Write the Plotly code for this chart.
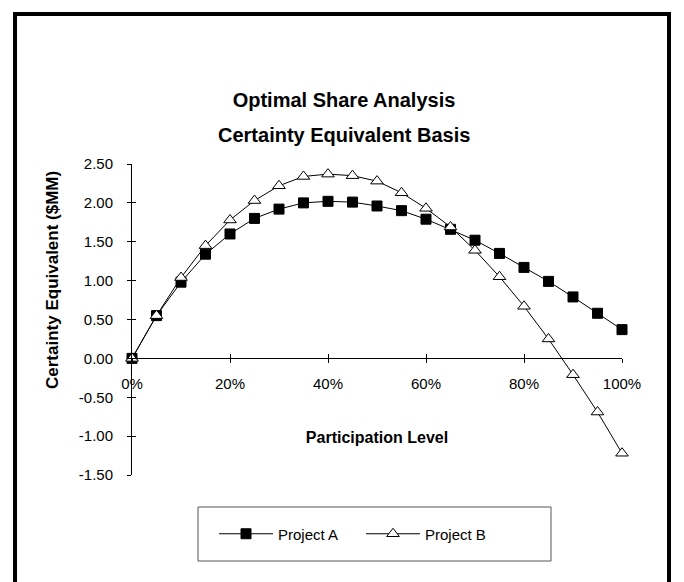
import plotly.graph_objects as go

# ---- data ----
participation = [0.00, 0.05, 0.10, 0.15, 0.20, 0.25, 0.30, 0.35, 0.40, 0.45, 0.50,
                 0.55, 0.60, 0.65, 0.70, 0.75, 0.80, 0.85, 0.90, 0.95, 1.00]
project_a = [0.00, 0.55, 0.98, 1.34, 1.60, 1.80, 1.92, 2.00, 2.02, 2.01, 1.96,
             1.90, 1.79, 1.66, 1.52, 1.35, 1.17, 0.99, 0.79, 0.58, 0.37]
project_b = [0.00, 0.55, 1.04, 1.45, 1.78, 2.03, 2.22, 2.34, 2.37, 2.35, 2.28,
             2.13, 1.93, 1.69, 1.39, 1.05, 0.67, 0.25, -0.21, -0.69, -1.22]
series_names = ["Project A", "Project B"]
x_tick_vals = [0.0, 0.2, 0.4, 0.6, 0.8, 1.0]
x_tick_labels = ["0%", "20%", "40%", "60%", "80%", "100%"]
y_tick_vals = [-1.5, -1.0, -0.5, 0.0, 0.5, 1.0, 1.5, 2.0, 2.5]
y_tick_labels = ["-1.50", "-1.00", "-0.50", "0.00", "0.50", "1.00", "1.50", "2.00", "2.50"]
title_lines = ["Optimal Share Analysis", "Certainty Equivalent Basis"]
x_title = "Participation Level"
y_title = "Certainty Equivalent ($MM)"

# ---- layout geometry (screen pixels; page body adds an 8px offset) ----
W, H = 684, 582
OFF = 8
L, R, T, B = 132, 622, 164, 475   # plot area on screen
FONT = "Arial, Liberation Sans, sans-serif"


def px_x(sx):
    return (sx - L) / (R - L)


def px_y(sy):
    return (B - sy) / (B - T)


y_min, y_max = y_tick_vals[0], y_tick_vals[-1]
zero_pos = (0 - y_min) / (y_max - y_min)

fig = go.Figure()
fig.add_trace(go.Scatter(
    x=participation, y=project_a, name=series_names[0], mode="lines+markers",
    line=dict(color="black", width=1), cliponaxis=False,
    marker=dict(symbol="square", size=10, color="black", line=dict(color="black", width=1)),
))
fig.add_trace(go.Scatter(
    x=participation, y=project_b, name=series_names[1], mode="lines+markers",
    line=dict(color="black", width=1), cliponaxis=False,
    marker=dict(symbol="triangle-up", size=11, color="white", line=dict(color="black", width=1)),
))
# invisible companion trace so the overlaid tick axes (inner tick halves) are drawn
fig.add_trace(go.Scatter(
    x=participation, y=project_a, xaxis="x2", yaxis="y2", mode="markers",
    marker=dict(opacity=0), showlegend=False, hoverinfo="skip",
))

axis_common = dict(showgrid=False, zeroline=False, color="black",
                   tickfont=dict(family=FONT, size=15, color="black"))

fig.update_layout(
    width=W, height=H,
    margin=dict(l=L - OFF, r=W - (R - OFF), t=T - OFF, b=H - (B - OFF), pad=0),
    paper_bgcolor="white", plot_bgcolor="white",
    font=dict(family=FONT, color="black"),
    showlegend=True,
    title=dict(
        text="<b>" + title_lines[0] + "</b>",
        font=dict(family=FONT, size=20, color="black"),
        x=(344 - OFF) / W, xanchor="center", xref="container",
        y=1 - (100 - OFF) / H, yanchor="middle", yref="container",
    ),
    annotations=[
        dict(text="<b>" + title_lines[1] + "</b>", xref="paper", yref="paper",
             x=px_x(344), y=px_y(135), xanchor="center", yanchor="middle",
             showarrow=False, font=dict(family=FONT, size=20, color="black")),
        dict(text="<b>" + y_title + "</b>", xref="paper", yref="paper",
             x=px_x(52), y=px_y(280), xanchor="center", yanchor="middle",
             textangle=-90, showarrow=False,
             font=dict(family=FONT, size=17, color="black")),
    ],
    xaxis=dict(
        range=[0, 1], tickvals=x_tick_vals, ticktext=x_tick_labels,
        anchor="free", position=zero_pos,
        showline=True, linecolor="black", linewidth=1,
        ticks="outside", ticklen=4, tickcolor="black", tickwidth=1,
        ticklabelstandoff=8,
        title=dict(text="<b>" + x_title + "</b>", font=dict(family=FONT, size=16, color="black"),
                   standoff=40),
        **axis_common,
    ),
    xaxis2=dict(
        range=[0, 1], tickvals=x_tick_vals, overlaying="x",
        anchor="free", position=zero_pos,
        showline=False, showticklabels=False, showgrid=False, zeroline=False,
        ticks="inside", ticklen=4, tickcolor="black", tickwidth=1,
    ),
    yaxis=dict(
        range=[y_min, y_max], tickvals=y_tick_vals, ticktext=y_tick_labels,
        showline=True, linecolor="black", linewidth=1,
        ticks="outside", ticklen=4, tickcolor="black", tickwidth=1,
        ticklabelstandoff=11,
        **axis_common,
    ),
    yaxis2=dict(
        range=[y_min, y_max], tickvals=y_tick_vals, overlaying="y", anchor="x", side="left",
        showline=False, showticklabels=False, showgrid=False, zeroline=False,
        ticks="inside", ticklen=4, tickcolor="black", tickwidth=1,
    ),
    legend=dict(
        orientation="h", x=px_x(214), xanchor="left",
        y=px_y(534), yanchor="middle",
        font=dict(family=FONT, size=15, color="black"),
        bgcolor="rgba(0,0,0,0)", borderwidth=0,
        itemwidth=54, entrywidth=78, entrywidthmode="pixels",
    ),
    shapes=[
        # outer chart frame (open at the bottom edge of the picture)
        dict(type="rect", xref="paper", yref="paper",
             x0=px_x(15), x1=px_x(669), y0=px_y(620), y1=px_y(14),
             line=dict(color="black", width=4), fillcolor="rgba(0,0,0,0)", layer="above"),
        # legend frame
        dict(type="rect", xref="paper", yref="paper",
             x0=px_x(198), x1=px_x(551), y0=px_y(561), y1=px_y(507),
             line=dict(color="#555555", width=1), fillcolor="rgba(0,0,0,0)", layer="above"),
    ],
)

fig.write_html("out.html")
